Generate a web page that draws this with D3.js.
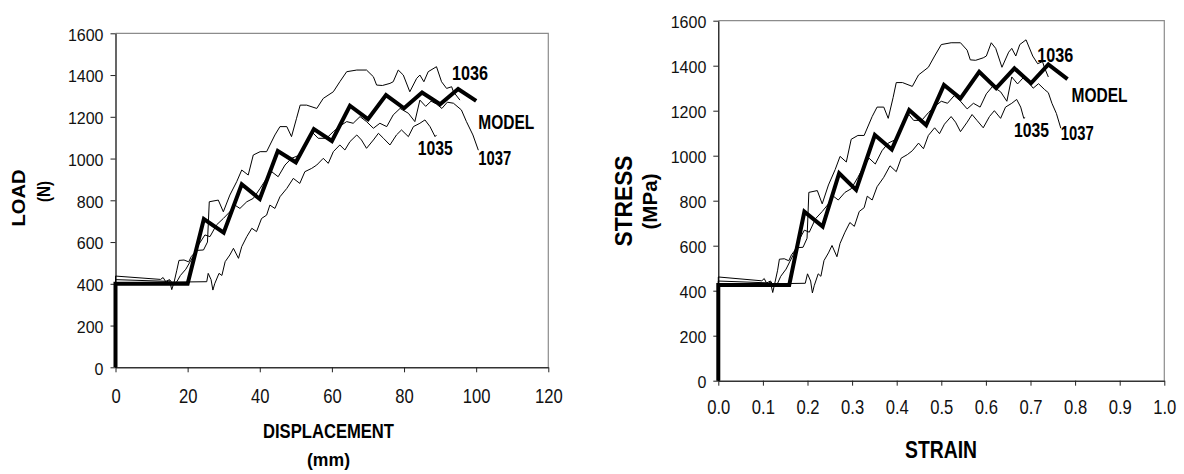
<!DOCTYPE html>
<html>
<head>
<meta charset="utf-8">
<script src="https://cdn.jsdelivr.net/npm/d3@7"></script>
<style>
  body { margin: 0; background: #fff; }
  svg { display: block; font-family: Arial, "Liberation Sans", sans-serif; }
</style>
</head>
<body>
<svg id="canvas" width="1184" height="474"></svg>
<script>
// left chart: load against displacement
var dispTicks = [0, 20, 40, 60, 80, 100, 120]
var loadTicks = [0, 200, 400, 600, 800, 1000, 1200, 1400, 1600]

var loadModel = [[0, 0], [0, 400], [20, 400], [24.5, 710], [30, 645], [35, 877], [40, 806], [45, 1036],
  [50, 982], [55, 1141], [60, 1084], [65, 1253], [70, 1189], [75, 1304], [80, 1241], [85, 1316],
  [90, 1260], [95, 1333], [100, 1276]]

var load1036 = [[0, 0], [0, 437], [12.5, 421], [13.2, 430], [14, 408], [15, 415], [15.6, 372], [16.2, 405],
  [17, 465], [17.6, 512], [19, 514], [20.3, 505], [21, 530], [22.5, 560], [24.4, 562], [25.5, 600],
  [26, 793], [28.5, 801], [29.9, 745], [31.7, 825], [33.6, 889], [35, 945], [36.8, 921], [38.2, 1017],
  [40.1, 1033], [41.9, 1033], [44.2, 1113], [45.6, 1153], [47.5, 1153], [48.8, 1105], [50.2, 1193],
  [51.2, 1256], [53, 1256], [55.8, 1240], [57.6, 1288], [60.4, 1320], [62.2, 1368], [64.1, 1416],
  [66.9, 1424], [69.6, 1424], [71.5, 1392], [72.4, 1352], [74, 1350], [76.1, 1360], [77, 1368],
  [78.4, 1424], [79.8, 1400], [81.6, 1320], [83.5, 1384], [84.4, 1400], [85.5, 1368], [86.7, 1416],
  [89, 1440], [90.4, 1368], [91.8, 1336], [93.2, 1344], [93.7, 1320], [95.5, 1280]]

var load1037 = [[0, 0], [0, 420], [14, 412], [15, 420], [16, 398], [17, 410], [18, 440], [19.5, 470],
  [20.5, 500], [21.5, 530], [23, 586], [24.8, 634], [26.2, 626], [28, 682], [29.9, 713], [31.7, 745],
  [33.1, 777], [34.5, 761], [36.4, 793], [38.2, 809], [40.1, 857], [41.9, 905], [43.3, 937], [45.1, 913],
  [47, 969], [48.8, 1001], [51.1, 1017], [53, 1081], [54.4, 1129], [56.2, 1097], [58.5, 1097],
  [60.4, 1129], [62.7, 1161], [64.1, 1177], [65.9, 1169], [67.8, 1201], [69.6, 1177], [71.5, 1145],
  [73.3, 1169], [75.2, 1153], [77, 1209], [78.9, 1240], [81.2, 1217], [83, 1177], [84.4, 1280],
  [86, 1250], [87.5, 1275], [89, 1261], [90.5, 1240], [92, 1270], [93.7, 1265], [95.9, 1233],
  [97.3, 1177], [99.1, 1113], [100.6, 1040]]

var load1035 = [[0, 0], [0, 405], [25.3, 410], [25.7, 450], [26.5, 420], [27, 370], [27.5, 400], [28.7, 450],
  [29.5, 440], [30.4, 506], [31.7, 538], [32.7, 570], [34.1, 522], [35, 578], [36.4, 626], [37.8, 666],
  [39.1, 650], [40.5, 713], [41.9, 729], [42.8, 777], [44.2, 761], [45.6, 817], [47.5, 857], [49.3, 905],
  [51.1, 881], [52.5, 937], [54.4, 953], [55.8, 969], [57.6, 1001], [59, 977], [60.4, 1033], [62.2, 1065],
  [63.6, 1041], [65, 1081], [66.9, 1113], [68.2, 1089], [69.6, 1049], [71.5, 1089], [72.9, 1121],
  [74.3, 1097], [76.1, 1065], [77.9, 1113], [79.3, 1137], [81.2, 1105], [82.6, 1153], [84.4, 1169],
  [85.8, 1185], [87.2, 1153], [88.6, 1105], [89, 1113]]

var loadNotes = [
  { text: '1036', x: 93.3, y: 1376 },
  { text: 'MODEL', x: 100.6, y: 1142 },
  { text: '1035', x: 83.8, y: 1017 },
  { text: '1037', x: 100.6, y: 970 }
]

// right chart: stress against strain
var strainTicks = [0, 0.1, 0.2, 0.3, 0.4, 0.5, 0.6, 0.7, 0.8, 0.9, 1.0]
var stressTicks = [0, 200, 400, 600, 800, 1000, 1200, 1400, 1600]

var stressModel = [[0, 0], [0, 425], [0.159, 425], [0.193, 751], [0.234, 685], [0.271, 922], [0.309, 848],
  [0.351, 1092], [0.389, 1028], [0.428, 1203], [0.466, 1136], [0.506, 1314], [0.543, 1255],
  [0.585, 1373], [0.623, 1300], [0.664, 1388], [0.701, 1322], [0.740, 1406], [0.783, 1340]]

var stress1036 = [[0, 0], [0, 461], [0.0975, 444], [0.103, 454], [0.109, 430], [0.117, 438], [0.122, 392],
  [0.126, 427], [0.133, 491], [0.137, 540], [0.148, 542], [0.158, 533], [0.164, 559], [0.176, 591],
  [0.190, 593], [0.199, 633], [0.203, 837], [0.222, 845], [0.233, 786], [0.247, 870], [0.262, 938],
  [0.273, 997], [0.287, 972], [0.298, 1073], [0.313, 1090], [0.327, 1090], [0.345, 1174], [0.356, 1216],
  [0.371, 1216], [0.381, 1166], [0.392, 1259], [0.399, 1325], [0.413, 1325], [0.435, 1308],
  [0.449, 1359], [0.471, 1393], [0.485, 1443], [0.500, 1494], [0.522, 1502], [0.543, 1502],
  [0.558, 1469], [0.565, 1426], [0.577, 1424], [0.594, 1435], [0.601, 1443], [0.612, 1502],
  [0.622, 1477], [0.636, 1393], [0.651, 1460], [0.658, 1477], [0.667, 1443], [0.676, 1494],
  [0.690, 1515], [0.705, 1443], [0.716, 1409], [0.727, 1418], [0.731, 1393], [0.740, 1350]]

var stress1037 = [[0, 0], [0, 443], [0.109, 435], [0.117, 443], [0.125, 420], [0.133, 433], [0.140, 464],
  [0.152, 496], [0.160, 528], [0.168, 559], [0.179, 618], [0.193, 669], [0.204, 660], [0.218, 720],
  [0.233, 752], [0.247, 786], [0.258, 820], [0.269, 803], [0.284, 837], [0.298, 853], [0.313, 904],
  [0.327, 955], [0.338, 989], [0.352, 963], [0.367, 1022], [0.381, 1056], [0.399, 1073], [0.413, 1140],
  [0.424, 1191], [0.438, 1157], [0.456, 1157], [0.471, 1191], [0.489, 1225], [0.500, 1242],
  [0.514, 1233], [0.529, 1267], [0.543, 1242], [0.558, 1208], [0.572, 1233], [0.587, 1216],
  [0.601, 1275], [0.615, 1308], [0.633, 1284], [0.647, 1242], [0.658, 1350], [0.671, 1319],
  [0.683, 1345], [0.694, 1330], [0.706, 1300], [0.718, 1320], [0.731, 1295], [0.740, 1280],
  [0.748, 1233], [0.758, 1188], [0.768, 1122]]

var stress1035 = [[0, 0], [0, 427], [0.195, 433], [0.200, 475], [0.207, 443], [0.211, 390], [0.215, 422],
  [0.224, 475], [0.230, 464], [0.237, 534], [0.247, 568], [0.255, 601], [0.266, 551], [0.273, 610],
  [0.284, 660], [0.295, 703], [0.305, 686], [0.316, 752], [0.327, 769], [0.334, 820], [0.345, 803],
  [0.356, 862], [0.371, 904], [0.385, 955], [0.399, 929], [0.410, 989], [0.424, 1005], [0.435, 1022],
  [0.449, 1056], [0.460, 1031], [0.471, 1090], [0.485, 1124], [0.496, 1098], [0.507, 1140],
  [0.522, 1174], [0.532, 1149], [0.543, 1107], [0.558, 1149], [0.569, 1183], [0.580, 1157],
  [0.594, 1124], [0.608, 1174], [0.619, 1200], [0.633, 1166], [0.644, 1216], [0.658, 1233],
  [0.669, 1250], [0.678, 1216], [0.685, 1166], [0.688, 1170]]

var stressNotes = [
  { text: '1036', x: 0.715, y: 1416 },
  { text: 'MODEL', x: 0.792, y: 1239 },
  { text: '1035', x: 0.663, y: 1083 },
  { text: '1037', x: 0.768, y: 1070 }
]

// widths of the bold note labels, as printed
var noteWidth = { '1035': 35, '1036': 36, '1037': 33, 'MODEL': 56 }

function squeeze(sel, factor) {
  // narrow each text to the condensed look of the original
  sel.each(function() {
    var w = this.getComputedTextLength()
    d3.select(this).attr('textLength', w * factor).attr('lengthAdjust', 'spacingAndGlyphs')
  })
}

function drawChart(cfg) {
  var canvas = d3.select('#canvas')
  var g = canvas.append('g')
  var x = d3.scaleLinear().domain(cfg.xDomain).range([cfg.left, cfg.right])
  var y = d3.scaleLinear().domain([0, 1600]).range([cfg.bottom, cfg.top])

  // grey frame on top and right
  g.append('path')
    .attr('d', 'M' + cfg.left + ',' + cfg.top + 'H' + cfg.right + 'V' + cfg.bottom)
    .attr('fill', 'none')
    .attr('stroke', '#8c8c8c')
    .attr('stroke-width', 1.2)

  var gx = g.append('g')
    .attr('transform', 'translate(0,' + cfg.bottom + ')')
    .call(d3.axisBottom(x).tickValues(cfg.xTicks).tickFormat(cfg.xFormat)
      .tickSize(5).tickSizeOuter(0).tickPadding(cfg.xPad))
  gx.select('.domain').attr('stroke', '#333').attr('stroke-width', 1.5)
  gx.selectAll('.tick line').attr('stroke', '#222')
  gx.selectAll('text')
    .attr('font-size', 20)
    .attr('font-family', 'Arial, "Liberation Sans", sans-serif')
    .attr('fill', '#111')
  squeeze(gx.selectAll('text'), 0.83)

  var gy = g.append('g')
    .attr('transform', 'translate(' + cfg.left + ',0)')
    .call(d3.axisLeft(y).tickValues(cfg.yTicks).tickFormat(d3.format('d'))
      .tickSize(5).tickSizeOuter(0).tickPadding(7))
  gy.select('.domain').attr('stroke', '#000').attr('stroke-width', 1.2)
  gy.selectAll('.tick line').attr('stroke', '#222')
  gy.selectAll('text')
    .attr('font-size', 16)
    .attr('dy', '0.42em')
    .attr('font-family', 'Arial, "Liberation Sans", sans-serif')
    .attr('fill', '#111')

  // measured curves and the model
  var line = d3.line().x(function(d) { return x(d[0]) }).y(function(d) { return y(d[1]) })
  cfg.series.forEach(function(s) {
    g.append('path')
      .datum(s)
      .attr('d', line)
      .attr('fill', 'none')
      .attr('stroke', '#000')
      .attr('stroke-width', 1)
  })
  g.append('path')
    .datum(cfg.model)
    .attr('d', line)
    .attr('fill', 'none')
    .attr('stroke', '#000')
    .attr('stroke-width', 4)
    .attr('stroke-linejoin', 'miter')

  // curve labels
  g.selectAll('.note')
    .data(cfg.notes)
    .enter()
    .append('text')
    .attr('class', 'note')
    .attr('x', function(d) { return x(d.x) })
    .attr('y', function(d) { return y(d.y) })
    .attr('font-size', 20)
    .attr('font-weight', 'bold')
    .attr('textLength', function(d) { return noteWidth[d.text] })
    .attr('lengthAdjust', 'spacingAndGlyphs')
    .text(function(d) { return d.text })

  // axis titles
  cfg.xTitle.forEach(function(t) {
    g.append('text')
      .attr('x', cfg.xTitleX)
      .attr('y', t.y)
      .attr('text-anchor', 'middle')
      .attr('font-size', t.size)
      .attr('font-weight', 'bold')
      .attr('textLength', t.len)
      .attr('lengthAdjust', 'spacingAndGlyphs')
      .text(t.text)
  })
  cfg.yTitle.forEach(function(t) {
    g.append('text')
      .attr('transform', 'translate(' + t.x + ',' + t.cy + ') rotate(-90)')
      .attr('text-anchor', 'middle')
      .attr('font-size', t.size)
      .attr('font-weight', 'bold')
      .attr('textLength', t.len)
      .attr('lengthAdjust', 'spacingAndGlyphs')
      .text(t.text)
  })
}

drawChart({
  left: 115.5, right: 548.3, top: 33.3, bottom: 367.3,
  xDomain: [0, 120], xTicks: dispTicks, yTicks: loadTicks,
  xFormat: d3.format('d'), xPad: 17,
  series: [load1035, load1036, load1037], model: loadModel, notes: loadNotes,
  xTitleX: 328.5,
  xTitle: [
    { text: 'DISPLACEMENT', y: 437.5, size: 19.5, len: 131 },
    { text: '(mm)', y: 466, size: 18, len: 43 }
  ],
  yTitle: [
    { text: 'LOAD', x: 25, cy: 198, size: 19, len: 57 },
    { text: '(N)', x: 49.5, cy: 191.5, size: 18, len: 21 }
  ]
})

drawChart({
  left: 718.3, right: 1164.3, top: 20.7, bottom: 380.7,
  xDomain: [0, 1], xTicks: strainTicks, yTicks: stressTicks,
  xFormat: d3.format('.1f'), xPad: 14,
  series: [stress1035, stress1036, stress1037], model: stressModel, notes: stressNotes,
  xTitleX: 941,
  xTitle: [
    { text: 'STRAIN', y: 458.3, size: 24, len: 72 }
  ],
  yTitle: [
    { text: 'STRESS', x: 632, cy: 201, size: 23, len: 91 },
    { text: '(MPa)', x: 657, cy: 201.5, size: 21, len: 56 }
  ]
})
</script>
</body>
</html>
